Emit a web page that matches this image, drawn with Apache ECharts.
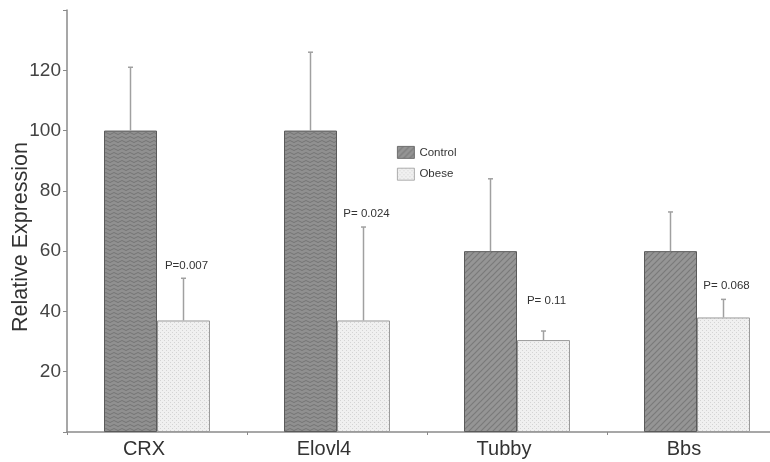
<!DOCTYPE html>
<html>
<head>
<meta charset="utf-8">
<script src="https://cdn.jsdelivr.net/npm/echarts@6/dist/echarts.min.js"></script>
<style>html,body{margin:0;padding:0;background:#fff}#c{width:770px;height:462px}</style>
</head>
<body>
<div id="c"></div>
<script>
// ---- data ----
var categories = ['CRX', 'Elovl4', 'Tubby', 'Bbs'];
var controlValues = [100, 100, 60, 60];
var controlErrTop = [121, 126, 84, 73];
var obeseValues = [37, 37, 30.5, 38];
var obeseErrTop = [51, 68, 33.5, 44];
var pLabels = ['P=0.007', 'P= 0.024', 'P= 0.11', 'P= 0.068'];
var pLabelValue = [55, 72.5, 43.5, 48.5];
var yTicks = [0, 20, 40, 60, 80, 100, 120, 140];

function makeCanvas(w, h, draw) {
  var c = document.createElement('canvas');
  c.width = w; c.height = h;
  draw(c.getContext('2d'));
  return c;
}
var wavePat = makeCanvas(8, 4, function (g) {
  g.fillStyle = '#909090'; g.fillRect(0, 0, 8, 4);
  g.strokeStyle = '#747474'; g.lineWidth = 1;
  g.beginPath(); g.moveTo(0, 1.5); g.lineTo(2, 0.5); g.lineTo(4, 1.5); g.lineTo(6, 2.5); g.lineTo(8, 1.5); g.stroke();
});
var diagPat = makeCanvas(6, 6, function (g) {
  g.fillStyle = '#959595'; g.fillRect(0, 0, 6, 6);
  g.strokeStyle = '#7a7a7a'; g.lineWidth = 1.2;
  g.beginPath(); g.moveTo(0, 6); g.lineTo(6, 0); g.moveTo(-3, 3); g.lineTo(3, -3); g.moveTo(3, 9); g.lineTo(9, 3); g.stroke();
});
var dotPat = makeCanvas(4, 4, function (g) {
  g.fillStyle = '#f0f0f0'; g.fillRect(0, 0, 4, 4);
  g.fillStyle = '#d4d4d4'; g.fillRect(0, 0, 1, 1); g.fillRect(2, 2, 1, 1);
});

var ctrlPatterns = [wavePat, wavePat, diagPat, diagPat];
var BAR_W = 53;

function errRenderer(sign, withLabel) {
  return function (params, api) {
    var i = api.value(0);
    var base = api.coord([i, api.value(1)]);
    var top = api.coord([i, api.value(2)]);
    var x = base[0] + sign * BAR_W / 2;
    var style = { stroke: '#a0a0a0', lineWidth: 1.5 };
    var children = [
      { type: 'line', shape: { x1: x, y1: base[1], x2: x, y2: top[1] }, style: style },
      { type: 'line', shape: { x1: x - 2.5, y1: top[1], x2: x + 2.5, y2: top[1] }, style: style }
    ];
    if (withLabel) {
      var ly = api.coord([i, api.value(3)])[1];
      children.push({
        type: 'text', x: x + 3, y: ly,
        style: { text: pLabels[i], fill: '#333', font: '11.5px "Liberation Sans", Arial, sans-serif', align: 'center', verticalAlign: 'middle' }
      });
    }
    return { type: 'group', children: children };
  };
}

var chart = echarts.init(document.getElementById('c'), null, { renderer: 'canvas' });
chart.setOption({
  animation: false,
  backgroundColor: '#fff',
  textStyle: { fontFamily: '"Liberation Sans", Arial, sans-serif' },
  grid: { left: 67, top: 10, bottom: 30, width: 720, containLabel: false, outerBoundsMode: 'none' },
  legend: {
    orient: 'vertical', left: 392, top: 141, itemWidth: 17, itemHeight: 12, itemGap: 9,
    icon: 'rect', itemStyle: { borderWidth: 0.8 },
    data: ['Control', 'Obese'],
    textStyle: { fontSize: 11.5, color: '#333' }
  },
  xAxis: {
    type: 'category', data: categories,
    axisLine: { lineStyle: { color: '#8a8a8a', width: 1.5 } },
    axisTick: { show: true, length: 3, lineStyle: { color: '#8a8a8a' } },
    axisLabel: { fontSize: 20, color: '#333', margin: 7, padding: [0, 26, 0, 0] }
  },
  yAxis: {
    type: 'value', min: yTicks[0], max: yTicks[yTicks.length - 1], interval: 20,
    name: 'Relative Expression', nameLocation: 'middle', nameGap: 35, nameMoveOverlap: false,
    nameTextStyle: { fontSize: 21.5, color: '#333', padding: [0, 32, 0, 0] },
    axisLine: { show: true, lineStyle: { color: '#8a8a8a', width: 1.5 } },
    axisTick: { show: true, length: 4, lineStyle: { color: '#8a8a8a' } },
    splitLine: { show: false },
    axisLabel: {
      fontSize: 19, color: '#444', margin: 6,
      formatter: function (v) { return (v === yTicks[0] || v === yTicks[yTicks.length - 1]) ? '' : String(v); }
    }
  },
  series: [
    {
      name: 'Control', type: 'bar', barWidth: BAR_W, barGap: '0%',
      itemStyle: { color: { image: diagPat, repeat: 'repeat' }, borderColor: '#5a5a5a', borderWidth: 1 },
      data: controlValues.map(function (v, i) {
        return { value: v, itemStyle: { color: { image: ctrlPatterns[i], repeat: 'repeat' } } };
      })
    },
    {
      name: 'Obese', type: 'bar', barWidth: BAR_W, barGap: '0%',
      itemStyle: { color: { image: dotPat, repeat: 'repeat' }, borderColor: '#9a9a9a', borderWidth: 1 },
      data: obeseValues
    },
    {
      type: 'custom', z: 3, renderItem: errRenderer(-1, false),
      data: categories.map(function (c, i) { return [i, controlValues[i], controlErrTop[i]]; })
    },
    {
      type: 'custom', z: 3, renderItem: errRenderer(1, true),
      data: categories.map(function (c, i) { return [i, obeseValues[i], obeseErrTop[i], pLabelValue[i]]; })
    }
  ]
});
</script>
</body>
</html>
